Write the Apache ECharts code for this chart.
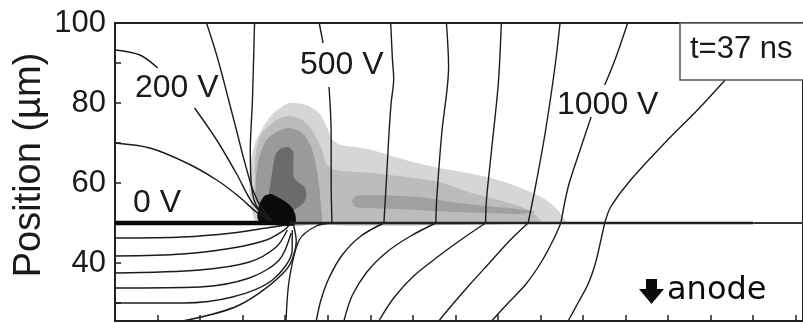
<!DOCTYPE html>
<html>
<head>
<meta charset="utf-8">
<script src="https://cdn.jsdelivr.net/npm/echarts@6/dist/echarts.min.js"></script>
<style>
  html, body { margin: 0; padding: 0; background: #fff; }
  #chart { width: 803px; height: 323px; }
</style>
</head>
<body>
<div id="chart"></div>
<script>
// ---- axes -------------------------------------------------------------
const xTicks = [10, 20, 30, 40, 50, 60, 70, 80, 90, 100, 110, 120, 130, 140, 150, 160];
const yTicks = [30, 40, 50, 60, 70, 80, 90];
const yLabels = [40, 60, 80, 100];

// ---- electrode (0 V) and dielectric surface at 50 µm -------------------
const electrode = [[0, 50], [41, 50]];
const surface = [[41, 50], [150, 50]];
const surfaceEnd = [[150, 50], [161.7, 50]];

// ---- charge density levels (outer to inner) ----------------------------
const densityLevel1 = [[33.5,50],[32.3,52.5],[31.6,58.25],[31.8,64.5],[32.8,69.5],[34.4,73.25],[37,77.25],[40.95,80],[44.9,79.5],[48,77.5],[49.8,74],[51.2,70.75],[53.1,69.5],[56.6,69],[60.4,68.25],[68.3,65.75],[76.1,63.75],[83.1,62.5],[90.1,60.75],[94.8,59],[100.2,56.5],[103.4,54],[105.3,51.5],[106,50]];
const densityLevel2 = [[34.4,50],[33,54.5],[32.8,62],[33.2,68.25],[34.6,72.5],[37.9,75.75],[40.95,76.75],[44,75.75],[46.3,73.25],[48.4,69],[49.8,64.5],[52,63.25],[60.4,62.5],[68.3,61.5],[76.1,60.25],[83.1,57.75],[90.1,55.75],[94.8,54.25],[98.3,52.5],[100.2,50]];
const densityLevel3 = [[35.1,50],[33.2,55.75],[33.2,62],[33.9,66.5],[35.6,70.75],[37.9,72.75],[40.95,73.75],[44,72.5],[46.1,69],[47.3,64],[48,59],[48.4,54],[48.4,50]];
const densityStreak = [[55.7,55.5],[56.6,56.75],[60.4,57],[71.4,56.5],[79.1,55.25],[87.1,54.25],[94.8,53.5],[98.8,52.75],[94.8,52.25],[87.1,52.5],[79.1,52.75],[71.4,53.25],[60.4,53.75],[56.6,54]];
const densityLevel4 = [[35.8,54.5],[36.3,58.25],[37.2,64.5],[37.7,67],[38.8,68.5],[40.7,69],[41.9,67.75],[41.9,64.5],[42.1,61.25],[43.3,60],[44.7,58.75],[44.9,56.25],[43.8,54.5],[40.95,52.75],[37.4,52.75]];
const densityTip = [[33.5,51.25],[33.9,54.5],[35.1,56.75],[36.7,57.25],[38.6,56.25],[40.2,55.25],[41.65,53.75],[42.4,52],[42.4,49.75],[40.95,49.25],[37.4,49.5],[34.4,49.75]];

// ---- equipotentials in the gas, converging on the electrode tip -------
const fan70 = [[0,70],[8.2,68.75],[16.85,65],[23.9,60.75],[29.25,56.5],[33.2,52.75],[36.7,50.3]];
const fan200a = [[0,93.25],[5.85,92],[10.06,88.75]];
const fan200b = [[18.7,78.75],[23.9,70.75],[28.6,62.25],[32.3,55],[36.7,50.4]];
const fanInner1 = [[21.5,100],[23.4,93.75],[25,87.75],[26.7,80.75],[28.6,73],[30.4,65.5],[32.5,58],[34.6,53.5],[37.2,50.3]];
const fanInner2 = [[32.8,100],[32.3,80.75],[31.8,68.25],[32.1,59],[33.5,53.75],[37.4,50.2]];

// ---- equipotentials in the gas, right of the tip ----------------------
const eq500a = [[48,100],[48.9,95]];
const eq500b = [[50.3,84],[50.8,72.5],[50.8,60],[51,50]];
const eqGas6 = [[64.8,100],[65.2,91],[65.5,86],[64.9,80],[64.4,72.5],[63.7,59],[63.2,50]];
const eqGas7 = [[77.9,100],[78.4,89],[76.8,72.5],[75.6,55.75],[75.4,50]];
const eqGas8 = [[90.8,100],[90.1,85],[88.5,68.25],[87.3,55.75],[87.1,50]];
const eqGas9 = [[104.6,100],[103.4,89],[101.1,72.5],[98.8,59],[97.1,50]];
const eq1000a = [[120.5,100],[117.5,90.75],[115.1,84.5]];
const eq1000b = [[111.9,76.5],[109.3,68.25],[106.5,59],[104.8,50]];
const eqGas11 = [[143.4,85.75],[136.9,78.25],[129.2,70],[121.2,60.75],[116.5,54],[115.1,50]];

// ---- equipotentials inside the dielectric ------------------------------
const diel1 = [[0,46.25],[15.9,46.5],[27.6,47.5],[35.6,48.75],[40.2,49.5]];
const diel2 = [[0,41.75],[15.9,42.25],[27.6,43.75],[35.6,45.75],[39.8,48.25],[40.95,49.5]];
const diel3 = [[0,37.5],[19.9,38.25],[31.6,40.25],[37.9,44],[40.5,48.25]];
const diel4 = [[0,33.75],[19.9,34],[31.6,36.25],[38.6,40.75],[41.4,47.5]];
const diel5 = [[0,30],[15.9,30],[27.6,31.5],[37,35.75],[41.65,43.25],[41.65,48.25]];
const diel6 = [[15.9,25.5],[29.25,29.5],[40.2,38.25],[42.6,45.5],[41.9,49.75]];
const diel7 = [[51,50],[47.3,49.25],[43.3,45.75],[40.95,35.75],[40.2,25.5]];
const diel8 = [[63.2,50],[57.8,46.75],[53.4,42],[50.3,36.25],[48.4,30.75],[47.3,25.5]];
const diel9 = [[75.4,50],[69.5,46.75],[63.9,42.75],[59.2,37.75],[55.7,31.75],[53.8,25.5]];
const diel10 = [[87.1,50],[81.9,46.25],[76.1,41.75],[70.2,36.75],[65.5,31.25],[62,25.5]];
const diel11 = [[97.1,50],[92.9,45.75],[88.2,40.25],[83.5,34.75],[79.6,30],[76.1,25.5]];
const diel12 = [[104.8,50],[103,45.75],[100.2,40.25],[96.6,34.75],[92.4,30],[88.5,25.5]];
const diel13 = [[115.1,50],[114.2,45.75],[113,40.25],[111.2,34.75],[108.8,30],[106.5,25.5]];

// ---- series builders --------------------------------------------------
const INK = '#1c1c1c';

function shade(points, color, z) {
  return {
    type: 'custom',
    data: points,
    encode: { x: 0, y: 1 },
    clip: true,
    silent: true,
    z: z,
    renderItem: function (params, api) {
      if (params.dataIndex !== 0) return null;
      return {
        type: 'polygon',
        shape: { points: points.map(function (p) { return api.coord(p); }), smooth: 0.25 },
        style: { fill: color, stroke: null }
      };
    }
  };
}

function contour(points, width) {
  return {
    type: 'line',
    data: points,
    smooth: 0.3,
    symbol: 'none',
    clip: true,
    silent: true,
    z: 10,
    lineStyle: { color: INK, width: width || 1.4 }
  };
}

function straight(points, width, color) {
  return {
    type: 'line',
    data: points,
    symbol: 'none',
    silent: true,
    z: 12,
    lineStyle: { color: color || INK, width: width }
  };
}

const series = [
  shade(densityLevel1, '#d6d6d6', 1),
  shade(densityLevel2, '#bcbcbc', 2),
  shade(densityLevel3, '#9a9a9a', 3),
  shade(densityStreak, '#a0a0a0', 3),
  shade(densityLevel4, '#6b6b6b', 4),
  shade(densityTip, '#0a0a0a', 5)
];

[fan70, fan200a, fan200b, fanInner1, fanInner2,
 eq500a, eq500b, eqGas6, eqGas7, eqGas8, eqGas9, eq1000a, eq1000b, eqGas11,
 diel1, diel2, diel3, diel4, diel5, diel6, diel7, diel8, diel9, diel10, diel11, diel12, diel13
].forEach(function (c) { series.push(contour(c)); });

series.push(straight(surface, 2.6, '#222'));
series.push(straight(surfaceEnd, 1.8, '#333'));
series.push(straight(electrode, 4.6, '#0a0a0a'));

const FONT = 'Liberation Sans, Arial, Helvetica, sans-serif';

function label(text, x, y, size) {
  return {
    type: 'text', x: x, y: y, z: 50,
    style: { text: text, fontSize: size || 32, fontFamily: FONT, fill: '#1a1a1a',
             align: 'left', verticalAlign: 'middle', textAlign: 'left', textVerticalAlign: 'middle' }
  };
}

const chart = echarts.init(document.getElementById('chart'), null, { renderer: 'canvas' });
chart.setOption({
  animation: false,
  backgroundColor: '#ffffff',
  grid: {
    left: 115, top: 23, right: -3, bottom: 2,
    show: true, borderColor: '#222', borderWidth: 2, backgroundColor: 'transparent'
  },
  xAxis: {
    type: 'value', min: 0, max: 161.7,
    axisLine: { show: false },
    splitLine: { show: false },
    axisLabel: { show: false },
    axisTick: { show: true, inside: true, length: 6, customValues: xTicks, lineStyle: { color: '#222', width: 1.5 } }
  },
  yAxis: {
    type: 'value', min: 25.5, max: 100,
    axisLine: { show: false },
    splitLine: { show: false },
    axisTick: { show: true, inside: true, length: 6, customValues: yTicks, lineStyle: { color: '#222', width: 1.5 } },
    axisLabel: { show: true, customValues: yLabels, margin: 9, fontSize: 31, fontFamily: FONT, color: '#1a1a1a' }
  },
  graphic: [
    {
      type: 'text', x: 30, y: 165, rotation: Math.PI / 2, z: 50,
      style: { text: 'Position (µm)', fontSize: 38, fontFamily: FONT, fill: '#1a1a1a',
               align: 'center', verticalAlign: 'middle', textAlign: 'center', textVerticalAlign: 'middle' }
    },
    label('200 V', 135, 88.5),
    label('500 V', 300, 65.5),
    label('1000 V', 557, 105.5),
    label('0 V', 133, 203.5),
    {
      type: 'rect', z: 40,
      shape: { x: 680, y: 23, width: 140, height: 57 },
      style: { fill: '#fff', stroke: '#555', lineWidth: 1.5 }
    },
    label('t=37 ns', 690, 49, 31),
    {
      type: 'polygon', z: 50,
      shape: { points: [[646,279],[657,279],[657,289],[664,289],[651.5,304],[639,289],[646,289]] },
      style: { fill: '#0a0a0a' }
    },
    {
      type: 'text', x: 667, y: 291, z: 50,
      style: { text: 'anode', fontSize: 32, fontFamily: 'DejaVu Sans, Verdana, sans-serif', fill: '#0a0a0a',
               align: 'left', verticalAlign: 'middle', textAlign: 'left', textVerticalAlign: 'middle' }
    }
  ],
  series: series
});
</script>
</body>
</html>
